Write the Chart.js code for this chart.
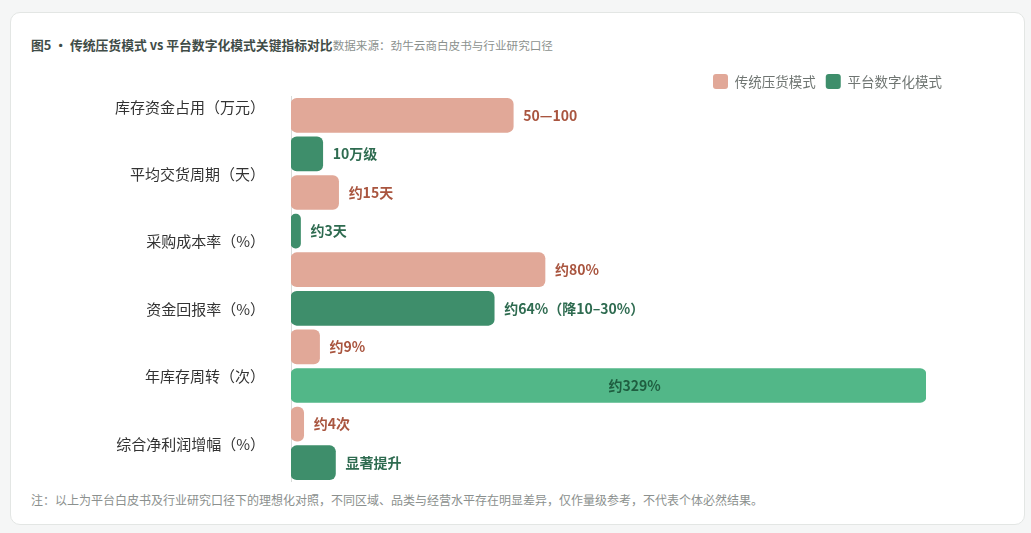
<!DOCTYPE html>
<html lang="zh-CN">
<head>
<meta charset="utf-8">
<title>图5 传统压货模式 vs 平台数字化模式关键指标对比</title>
<script src="https://cdn.jsdelivr.net/npm/chart.js@4.4.1/dist/chart.umd.min.js"></script>
<style>
  html, body { margin: 0; padding: 0; background: #f5f6f6; }
  body { width: 1031px; height: 533px; position: relative; overflow: hidden;
         font-family: "Noto Sans CJK SC", "Noto Sans", sans-serif; }
  .card { position: absolute; left: 10px; top: 12px; width: 1013px; height: 511px;
          background: #fff; border: 1px solid #e3e6e4; border-radius: 10px; }
  .title { position: absolute; left: 31px; top: 36px; font-size: 12.8px; line-height: 18px;
           white-space: nowrap; }
  .title b { color: #3f4c47; font-weight: 700; }
  .title span { color: #8b918e; font-size: 11.6px; }
  .note { position: absolute; left: 31px; top: 491px; font-size: 12px; line-height: 18px;
          color: #8b908e; white-space: nowrap; }
  .chart-box { position: absolute; left: 20px; top: 64px; width: 932px; height: 418px; }
</style>
</head>
<body>
<div class="card"></div>
<div class="title"><b>图5 • 传统压货模式 vs 平台数字化模式关键指标对比</b><span>数据来源：劲牛云商白皮书与行业研究口径</span></div>
<div class="chart-box"><canvas id="c"></canvas></div>
<div class="note">注：以上为平台白皮书及行业研究口径下的理想化对照，不同区域、品类与经营水平存在明显差异，仅作量级参考，不代表个体必然结果。</div>
<script>
// ---- data ----
const categories = ['库存资金占用（万元）', '平均交货周期（天）', '采购成本率（%）', '资金回报率（%）', '年库存周转（次）', '综合净利润增幅（%）'];
const seriesNames = ['传统压货模式', '平台数字化模式'];
const traditionalValues = [70, 15, 80, 9, 4];
const traditionalLabels = ['50—100', '约15天', '约80%', '约9%', '约4次'];
const platformValues = [10, 3, 64, 329, 14];
const platformLabels = ['10万级', '约3天', '约64%（降10–30%）', '约329%', '显著提升'];
const xMax = 200;
const hoveredPlatformIndex = 3;

// ---- styles ----
const PINK = '#e1a898';
const GREEN = '#3e8e6b';
const GREEN_HOVER = '#52b788';
const PINK_TEXT = '#a9553f';
const GREEN_TEXT = '#2e6b50';
const INSIDE_TEXT = '#1f5e40';
const FONT = '"Noto Sans CJK SC", "Noto Sans", sans-serif';

// rows: each pair (traditional, platform) one after another
const rowKeys = [];
const tradRaw = [], platRaw = [], tradText = [], platText = [];
traditionalValues.forEach((v, i) => {
  rowKeys.push('t' + i); tradRaw.push(v); platRaw.push(null); tradText.push(traditionalLabels[i]); platText.push(null);
  rowKeys.push('p' + i); tradRaw.push(null); platRaw.push(platformValues[i]); tradText.push(null); platText.push(platformLabels[i]);
});
const cap = v => v === null ? null : Math.min(v, xMax);
const hoveredRow = hoveredPlatformIndex * 2 + 1;

const valueLabelPlugin = {
  id: 'valueLabels',
  afterDatasetsDraw(chart) {
    const ctx = chart.ctx;
    ctx.save();
    ctx.font = 'bold 14px ' + FONT;
    ctx.textBaseline = 'middle';
    ctx.textAlign = 'left';
    chart.data.datasets.forEach((ds, di) => {
      const meta = chart.getDatasetMeta(di);
      meta.data.forEach((bar, i) => {
        const raw = ds.rawValues[i];
        if (raw === null || raw === undefined) return;
        const txt = ds.valueTexts[i];
        if (raw > xMax) {
          ctx.fillStyle = INSIDE_TEXT;
          ctx.fillText(txt, (bar.base + bar.x) / 2, bar.y);
        } else {
          ctx.fillStyle = ds.textColor;
          ctx.fillText(txt, bar.x + 10, bar.y);
        }
      });
    });
    ctx.restore();
  }
};

new Chart(document.getElementById('c'), {
  type: 'bar',
  data: {
    labels: rowKeys,
    datasets: [
      {
        label: seriesNames[0],
        data: tradRaw.map(cap),
        rawValues: tradRaw,
        valueTexts: tradText,
        textColor: PINK_TEXT,
        backgroundColor: PINK,
        grouped: false
      },
      {
        label: seriesNames[1],
        data: platRaw.map(cap),
        rawValues: platRaw,
        valueTexts: platText,
        textColor: GREEN_TEXT,
        backgroundColor: ctx => (ctx.dataIndex === hoveredRow ? GREEN_HOVER : GREEN),
        grouped: false
      }
    ]
  },
  options: {
    indexAxis: 'y',
    responsive: true,
    maintainAspectRatio: false,
    animation: false,
    events: [],
    layout: { padding: 0 },
    datasets: {
      bar: { barThickness: 34, borderRadius: 6, borderSkipped: false, borderWidth: 0 }
    },
    plugins: {
      legend: {
        position: 'top',
        align: 'end',
        maxHeight: 32,
        labels: {
          boxWidth: 15, boxHeight: 15, padding: 10,
          useBorderRadius: true, borderRadius: 3,
          color: '#6f7572',
          font: { family: FONT, size: 13.5 }
        }
      },
      tooltip: { enabled: false }
    },
    scales: {
      x: { type: 'linear', min: 0, max: xMax, display: false },
      y: { type: 'category', display: false, offset: true },
      yLabels: {
        type: 'linear',
        position: 'left',
        reverse: true,
        offset: false,
        min: -0.16,
        max: 5.56,
        grid: { display: false, drawTicks: false, offset: false },
        border: { display: true, color: '#d8dbd9', width: 1 },
        afterBuildTicks: scale => { scale.ticks = categories.map((_, i) => ({ value: i })); },
        afterFit: scale => {
          scale.width = 271;
          scale.paddingTop = 0;
          scale.paddingBottom = 0;
        },
        ticks: {
          autoSkip: false,
          padding: 26,
          color: '#333333',
          font: { family: FONT, size: 15 },
          callback: value => categories[value]
        }
      },
      ySpacer: {
        type: 'category',
        position: 'right',
        display: true,
        offset: false,
        grid: { display: false, drawTicks: false },
        border: { display: false },
        ticks: { display: false },
        afterFit: scale => {
          scale.width = 26;
          scale.paddingTop = 0;
          scale.paddingBottom = 0;
        }
      }
    }
  },
  plugins: [valueLabelPlugin]
});
</script>
</body>
</html>
